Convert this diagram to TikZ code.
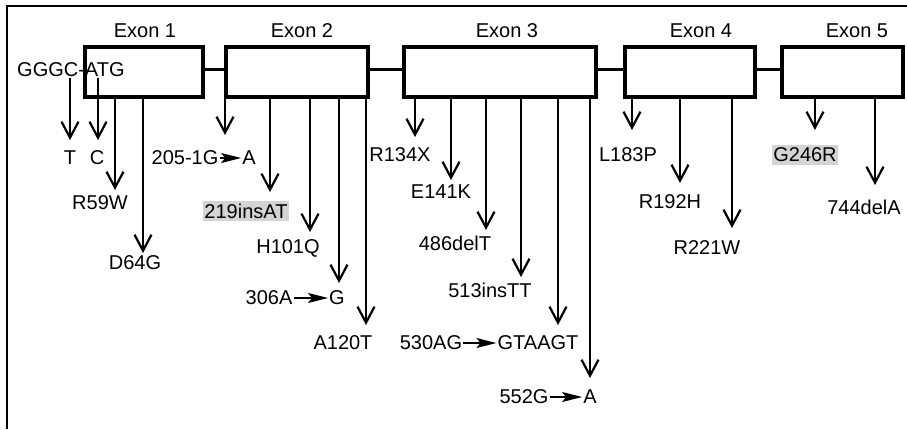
\documentclass[tikz,border=0pt]{standalone}
\usepackage{fontspec}
\setmainfont{Liberation Sans}
\usetikzlibrary{arrows.meta,positioning}

\begin{document}
\begin{tikzpicture}[x=1pt, y=-1pt,
    exon/.style={draw, line width=4pt, minimum height=50pt, inner sep=0pt},
    intron/.style={line width=3pt},
    mut/.style={-{Straight Barb[length=16pt,width=17pt,line width=2.2pt]}, line width=1.5pt},
    lab/.style={inner sep=1pt, font=\fontsize{20}{22}\selectfont},
    hl/.style={lab, fill=black!17, inner ysep=3pt},
    subst/.style={-{Stealth[length=20pt,width=10pt,inset=4pt]}, line width=1.2pt}
]
\useasboundingbox (0,0) rectangle (907,429);
\draw[line width=1.5pt] (907,6) -- (7,6) -- (7,429);

% exons
\node[exon, minimum width=118pt] (e1) at (144,72) {};
\node[exon, minimum width=142pt] (e2) at (297,72) {};
\node[exon, minimum width=192pt] (e3) at (500,72) {};
\node[exon, minimum width=130pt] (e4) at (690,72) {};
\node[exon, minimum width=121pt] (e5) at (842.5,72) {};
\node[lab] (x1) at (145,31) {Exon 1};
\node[lab] (x2) at (302,31) {Exon 2};
\node[lab] (x3) at (507,31) {Exon 3};
\node[lab] (x4) at (701,31) {Exon 4};
\node[lab] (x5) at (857,31) {Exon 5};
\foreach \a/\b in {e1/e2, e2/e3, e3/e4, e4/e5}
  \draw[intron] ([yshift=3pt]\a.east) -- ([yshift=3pt]\b.west);

\node[lab, anchor=west] (start) at (16,70) {GGGC-ATG};

% mutation labels
\node[lab] (t) at (70,158) {T};
\node[lab] (c) at (97,158) {C};
\node[lab] (r59w) at (100,203) {R59W};
\node[lab] (d64g) at (135,263) {D64G};
\node[lab] (g205) at (185,158) {205-1G};
\node[lab] (a205) at (249,158) {A};
\node[hl] (ins219) at (246,211) {219insAT};
\node[lab] (h101q) at (288,248) {H101Q};
\node[lab] (a306) at (269,298) {306A};
\node[lab] (g306) at (337,298) {G};
\node[lab] (a120t) at (343,343) {A120T};
\node[lab] (r134x) at (400,155) {R134X};
\node[lab] (e141k) at (441,192) {E141K};
\node[lab] (del486) at (455,243) {486delT};
\node[lab] (ins513) at (490,290) {513insTT};
\node[lab] (ag530) at (431,343) {530AG};
\node[lab] (gt530) at (538,343) {GTAAGT};
\node[lab] (g552) at (524,397) {552G};
\node[lab] (a552) at (590,397) {A};
\node[lab] (l183p) at (628,155) {L183P};
\node[lab] (r192h) at (670,202) {R192H};
\node[lab] (r221w) at (707,248) {R221W};
\node[hl] (g246r) at (805,155) {G246R};
\node[lab] (del744) at (864,207) {744delA};

\draw[subst] (g205.east) -- (a205.west);
\draw[subst] (a306.east) -- (g306.west);
\draw[subst] (ag530.east) -- (gt530.west);
\draw[subst] (g552.east) -- (a552.west);

% arrows down to the mutations
\coordinate (tT) at (70,140);
\coordinate (tC) at (98,140);
\draw[mut] (start.south -| tT) -- (tT);
\draw[mut] (start.south -| tC) -- (tC);
\foreach \ex/\x/\y/\n in {e1/115/190/m1, e1/143/253/m2,
    e2/225/135/m3, e2/270/192/m4, e2/310/232/m5, e2/339/283/m6, e2/366/325/m7,
    e3/415/137/m8, e3/451/180/m9, e3/486/230/m10, e3/521/277/m11, e3/558/325/m12, e3/590/378/m13,
    e4/632/130/m14, e4/680/183/m15, e4/732/228/m16,
    e5/815/130/m17, e5/875/185/m18} {
  \coordinate (\n) at (\x,\y);
  \draw[mut] (\ex.south -| \n) -- (\n);
}
\end{tikzpicture}
\end{document}
